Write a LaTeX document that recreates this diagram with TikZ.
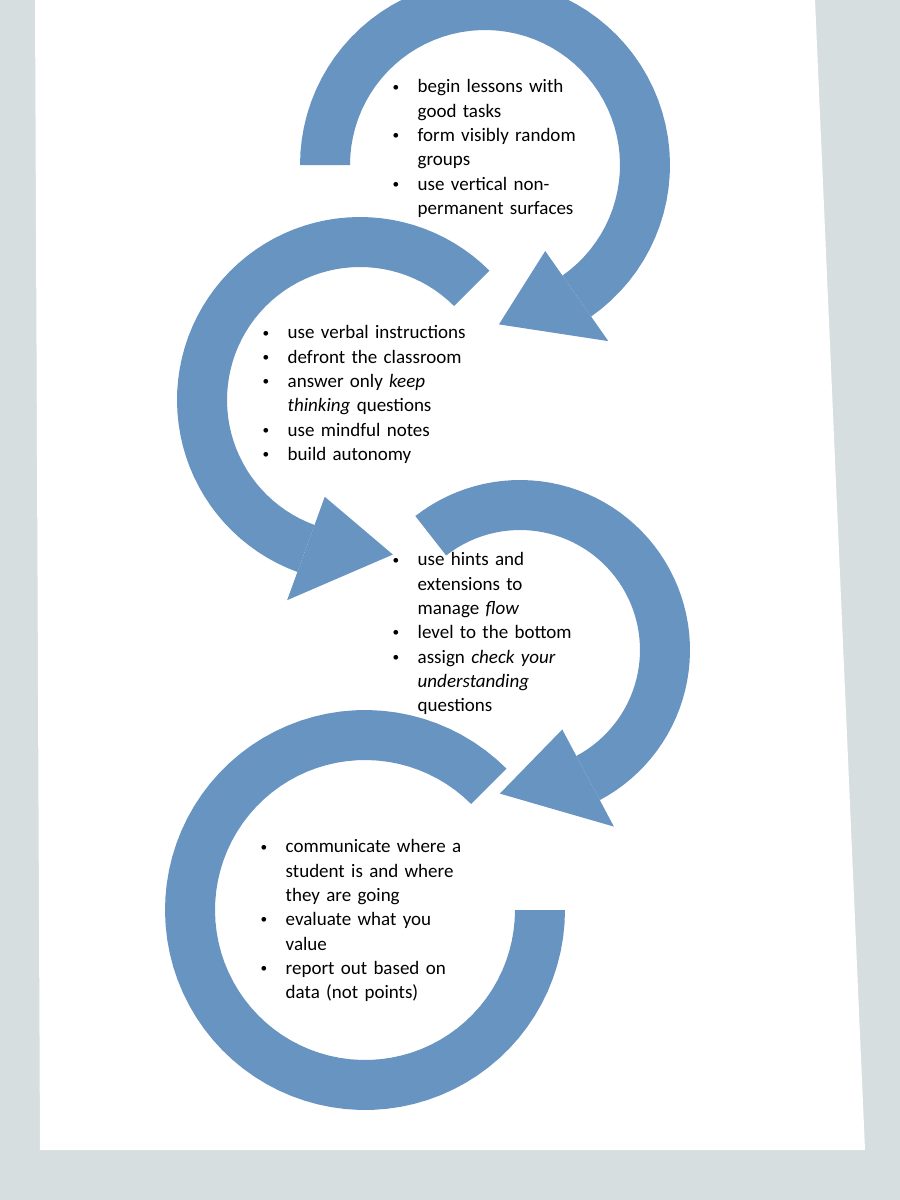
\documentclass[tikz,border=0pt]{standalone}
\usepackage{fontspec}
\setmainfont{Carlito}
\definecolor{loopblue}{RGB}{104,148,194}
\definecolor{wallgray}{RGB}{214,222,224}
\newcommand\itm[1]{\par\hangindent=0.25cm\hangafter=1\makebox[0.25cm][l]{\raisebox{0.2ex}{\scalebox{0.7}{\textbullet}}}#1}
% band from a1 to a2, arrow head from a2 to tip angle t
\newcommand\loopband[6]{%
  \fill[loopblue] plot[domain=#4:#5,samples=60] ({#1+(#3+25)*cos(\x)},{#2-(#3+25)*sin(\x)})
    -- plot[domain=#5:#4,samples=60] ({#1+(#3-25)*cos(\x)},{#2-(#3-25)*sin(\x)}) -- cycle;
  \fill[loopblue] ({#1+(#3+55)*cos(#5)},{#2-(#3+55)*sin(#5)})
    -- ({#1+#3*cos(#6)},{#2-#3*sin(#6)})
    -- ({#1+(#3-55)*cos(#5)},{#2-(#3-55)*sin(#5)}) -- cycle;}
\tikzset{steps/.style={anchor=north west,align=left,inner sep=0pt,
  font=\fontsize{5.4}{6.9}\selectfont}}
\begin{document}
\begin{tikzpicture}[x=0.01cm,y=-0.01cm]
\useasboundingbox (0,0) rectangle (900,1200);
\fill[wallgray] (0,0) rectangle (900,1200);
\fill[white] (35,0) -- (815,0) -- (865,1150) -- (40,1150) -- cycle;

\loopband{485}{165}{160}{180}{-55}{-85}
\loopband{360}{400}{158}{45}{250}{282}
\loopband{520}{650}{145}{128}{-62}{-98}
\fill[loopblue] plot[domain=45:360,samples=80] ({365+200*cos(\x)},{910-200*sin(\x)})
  -- plot[domain=360:45,samples=80] ({365+150*cos(\x)},{910-150*sin(\x)}) -- cycle;

\node[steps,text width=1.9cm] (first) at (392,68) {%
  \itm{begin lessons with\newline good tasks}
  \itm{form visibly random\newline groups}
  \itm{use vertical non-\newline permanent surfaces}\par};
\node[steps,text width=2.3cm] (second) at (262,314) {%
  \itm{use verbal instructions}
  \itm{defront the classroom}
  \itm{answer only \emph{keep}\newline \emph{thinking} questions}
  \itm{use mindful notes}
  \itm{build autonomy}\par};
\node[steps,text width=1.9cm] (third) at (392,541) {%
  \itm{use hints and\newline extensions to\newline manage \emph{flow}}
  \itm{level to the bottom}
  \itm{assign \emph{check your}\newline \emph{understanding}\newline questions}\par};
\node[steps,text width=2.3cm] (fourth) at (260,828) {%
  \itm{communicate where a\newline student is and where\newline they are going}
  \itm{evaluate what you\newline value}
  \itm{report out based on\newline data (not points)}\par};
\end{tikzpicture}
\end{document}
